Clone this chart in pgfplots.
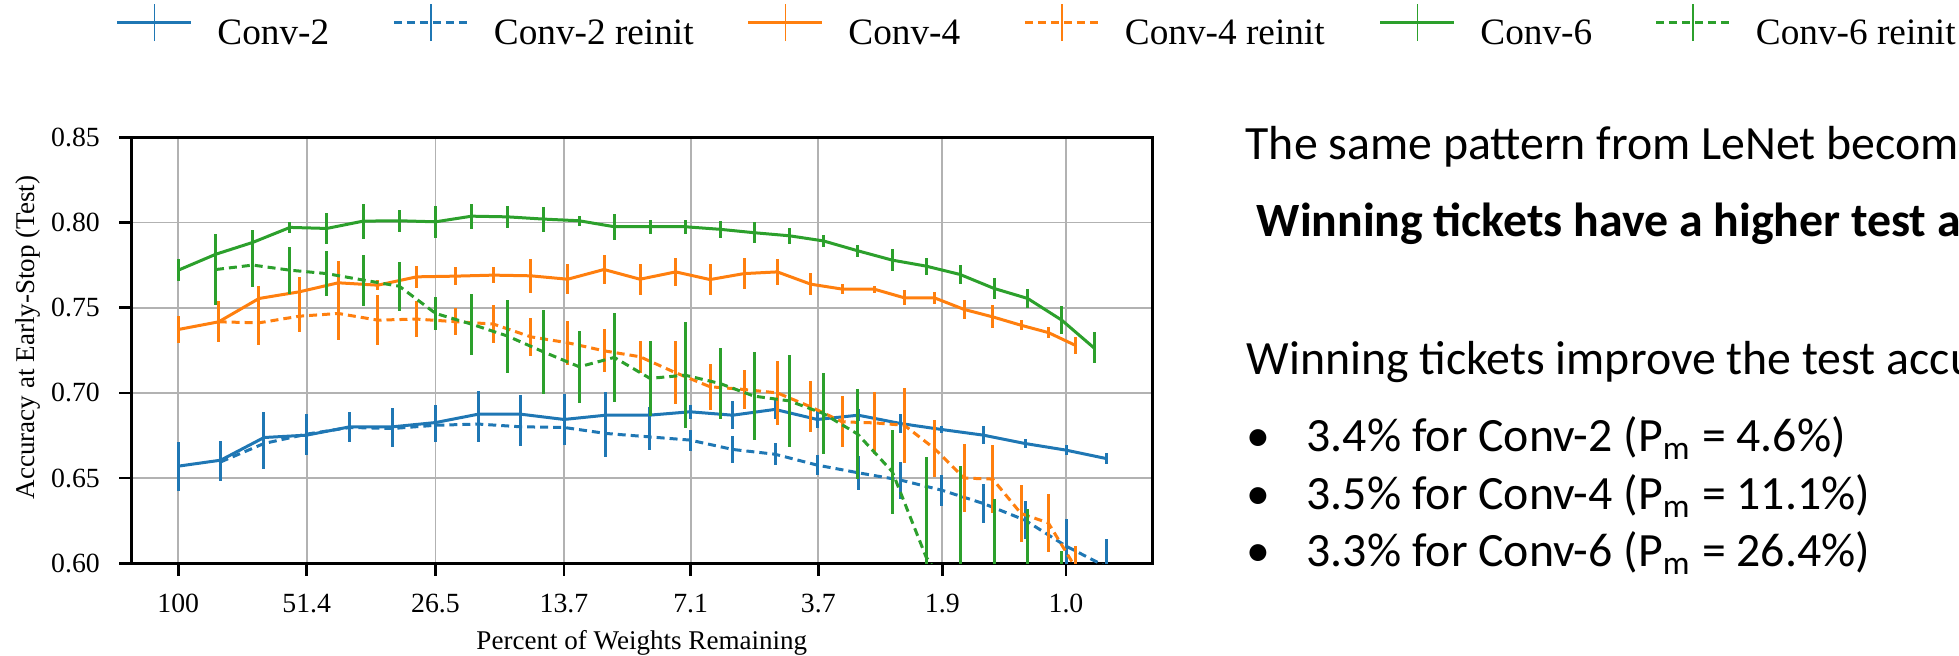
\documentclass[border=0pt]{standalone}
\usepackage{fontspec}
\setmainfont{Liberation Serif}
\newfontfamily\carlito{Carlito}
\usepackage{pgfplots}
\pgfplotsset{compat=1.18}
\usepackage{pgfplotstable}
\definecolor{cblue}{HTML}{1F77B4}
\definecolor{corange}{HTML}{FF7F0E}
\definecolor{cgreen}{HTML}{2CA02C}
\pgfplotsset{eb/.style={error bars/.cd, y dir=both, y explicit, error mark=none, error bar style={solid, line width=0.3mm}}}

% x = position along the (logarithmic) percent-remaining axis
\pgfplotstableread{
x y e
178.3 0.6570 0.0143
220.7 0.6605 0.0115
264.0 0.6738 0.0150
306.7 0.6752 0.0117
350.0 0.6801 0.0088
392.7 0.6801 0.0110
435.7 0.6826 0.0100
478.3 0.6875 0.0135
520.7 0.6875 0.0113
564.0 0.6844 0.0150
605.7 0.6869 0.0137
649.0 0.6869 0.0050
690.0 0.6889 0.0040
732.7 0.6869 0.0083
775.0 0.6903 0.0056
817.3 0.6844 0.0049
858.3 0.6869 0.0034
900.7 0.6820 0.0054
941.7 0.6785 0.0020
983.3 0.6752 0.0052
1025.0 0.6703 0.0026
1066.0 0.6664 0.0030
1106.0 0.6615 0.0035
}\convtwo
\pgfplotstableread{
x y e
220.7 0.6595 0.0115
264.0 0.6703 0.0150
306.7 0.6758 0.0117
350.0 0.6797 0.0088
392.7 0.6791 0.0110
435.7 0.6810 0.0100
478.3 0.6817 0.0108
520.7 0.6801 0.0113
564.0 0.6797 0.0083
605.7 0.6762 0.0137
649.0 0.6742 0.0076
690.0 0.6723 0.0062
732.7 0.6668 0.0078
775.0 0.6640 0.0066
817.3 0.6576 0.0059
858.3 0.6531 0.0100
900.7 0.6488 0.0108
941.7 0.6429 0.0091
983.3 0.6351 0.0117
1025.0 0.6253 0.0112
1066.0 0.6101 0.0156
1106.0 0.5980 0.0160
}\convtwor
\pgfplotstableread{
x y e
178.3 0.7372 0.0082
218.7 0.7417 0.0120
259.0 0.7554 0.0073
299.3 0.7593 0.0085
338.3 0.7646 0.0130
377.7 0.7632 0.0030
416.7 0.7681 0.0066
455.0 0.7685 0.0054
493.3 0.7691 0.0045
530.7 0.7687 0.0100
567.7 0.7667 0.0088
604.0 0.7724 0.0084
640.0 0.7667 0.0090
675.7 0.7710 0.0084
710.0 0.7665 0.0093
744.0 0.7700 0.0090
777.3 0.7710 0.0076
810.7 0.7638 0.0064
842.3 0.7609 0.0030
874.0 0.7609 0.0020
904.3 0.7558 0.0043
934.3 0.7558 0.0034
964.0 0.7490 0.0054
992.7 0.7446 0.0068
1021.0 0.7397 0.0030
1048.3 0.7354 0.0030
1075.0 0.7280 0.0050
}\convfour
\pgfplotstableread{
x y e
218.7 0.7417 0.0120
259.0 0.7411 0.0130
299.3 0.7450 0.0090
338.3 0.7466 0.0156
377.7 0.7427 0.0146
416.7 0.7433 0.0107
455.0 0.7418 0.0078
493.3 0.7404 0.0114
530.7 0.7329 0.0110
567.7 0.7294 0.0130
604.0 0.7247 0.0127
640.0 0.7212 0.0093
675.7 0.7118 0.0186
710.0 0.7036 0.0135
744.0 0.7020 0.0117
777.3 0.7000 0.0186
810.7 0.6918 0.0150
842.3 0.6830 0.0150
874.0 0.6824 0.0180
904.3 0.6810 0.0220
934.3 0.6674 0.0166
964.0 0.6500 0.0200
992.7 0.6494 0.0200
1021.0 0.6292 0.0170
1048.3 0.6237 0.0170
1075.0 0.5980 0.0120
}\convfourr
\pgfplotstableread{
x y e
178.3 0.7720 0.0065
216.0 0.7814 0.0092
252.7 0.7883 0.0072
290.0 0.7971 0.0030
326.7 0.7965 0.0093
363.3 0.8008 0.0103
399.3 0.8010 0.0065
435.7 0.8004 0.0093
471.7 0.8037 0.0073
507.7 0.8033 0.0064
543.3 0.8020 0.0073
579.3 0.8010 0.0030
614.3 0.7975 0.0075
650.0 0.7975 0.0040
685.0 0.7975 0.0040
720.0 0.7960 0.0050
754.0 0.7940 0.0060
789.3 0.7922 0.0046
823.3 0.7892 0.0037
857.7 0.7834 0.0034
892.3 0.7779 0.0066
926.0 0.7744 0.0050
960.0 0.7695 0.0054
994.0 0.7613 0.0064
1027.7 0.7554 0.0056
1061.7 0.7427 0.0083
1094.0 0.7264 0.0091
}\convsix
\pgfplotstableread{
x y e
216.0 0.7724 0.0210
252.7 0.7750 0.0128
290.0 0.7720 0.0137
326.7 0.7700 0.0130
363.3 0.7662 0.0150
399.3 0.7626 0.0145
435.7 0.7466 0.0095
471.7 0.7403 0.0180
507.7 0.7333 0.0215
543.3 0.7241 0.0248
579.3 0.7153 0.0213
614.3 0.7208 0.0260
650.0 0.7085 0.0218
685.0 0.7104 0.0310
720.0 0.7055 0.0208
754.0 0.6981 0.0260
789.3 0.6953 0.0268
823.3 0.6879 0.0240
857.7 0.6758 0.0264
892.3 0.6537 0.0247
926.0 0.6038 0.0587
960.0 0.5750 0.0820
994.0 0.5600 0.0780
1027.7 0.5450 0.0870
1061.7 0.5300 0.0770
}\convsixr

\begin{document}
\begin{tikzpicture}
\useasboundingbox (0,0) rectangle (195.9mm,65.6mm);
\clip (0,0) rectangle (195.9mm,65.6mm);
\begin{axis}[
  at={(13.17mm,9.27mm)}, anchor=south west,
  scale only axis, width=102.03mm, height=42.6mm,
  xmin=131.7, xmax=1152, ymin=0.6, ymax=0.85,
  xtick={178.3,306.7,435.5,564,690.7,818.3,942.3,1066},
  xticklabels={100,51.4,26.5,13.7,7.1,3.7,1.9,1.0},
  ytick={0.60,0.65,0.70,0.75,0.80,0.85},
  yticklabel style={xshift=-0.7mm, /pgf/number format/.cd, fixed, fixed zerofill, precision=2},
  /pgf/number format/assume math mode=true,
  scaled y ticks=false,
  tick label style={font=\fontsize{7.9}{9}\selectfont},
  xticklabel style={yshift=-0.6mm},
  xlabel={Percent of Weights Remaining},
  ylabel={Accuracy at Early-Stop (Test)},
  every axis x label/.style={at={(axis description cs:0.5,-0.2035)}, anchor=base, font=\fontsize{7.7}{9}\selectfont},
  every axis y label/.style={at={(axis description cs:-0.0948,0.53)}, anchor=base, rotate=90, font=\fontsize{7.7}{9}\selectfont},
  tick align=outside, tick pos=left,
  major tick length=1.25mm,
  tick style={black, line width=0.25mm},
  axis line style={line width=0.3mm},
  grid=major, grid style={black!30, line width=0.18mm},
  legend columns=6,
  legend style={at={(axis description cs:-0.0154,1.2589)}, anchor=west, draw=none, fill=none,
    inner sep=0pt, outer sep=0pt, font=\fontsize{10.6}{12}\selectfont, nodes={inner sep=0pt},
    /tikz/every odd column/.append style={column sep=2.45mm},
    /tikz/every even column/.append style={column sep=0mm}},
  legend image code/.code={\draw[#1] (0mm,1.25mm) -- (7.4mm,1.25mm);
    \draw[#1,solid,line width=0.12mm] (3.7mm,-0.58mm) -- (3.7mm,3.08mm);},
]
\addplot[cblue, line width=0.3mm, eb] table[x=x,y=y,y error=e] {\convtwo};
\addlegendentry{\makebox[17.5mm][l]{Conv-2}}
\addplot[cblue, line width=0.3mm, dash pattern=on 0.8mm off 0.5mm, eb] table[x=x,y=y,y error=e] {\convtwor};
\addlegendentry{\makebox[25.3mm][l]{Conv-2 reinit}}
\addplot[corange, line width=0.3mm, eb] table[x=x,y=y,y error=e] {\convfour};
\addlegendentry{\makebox[17.5mm][l]{Conv-4}}
\addplot[corange, line width=0.3mm, dash pattern=on 0.8mm off 0.5mm, eb] table[x=x,y=y,y error=e] {\convfourr};
\addlegendentry{\makebox[25.4mm][l]{Conv-4 reinit}}
\addplot[cgreen, line width=0.3mm, eb] table[x=x,y=y,y error=e] {\convsix};
\addlegendentry{\makebox[17.4mm][l]{Conv-6}}
\addplot[cgreen, line width=0.3mm, dash pattern=on 0.8mm off 0.5mm, eb] table[x=x,y=y,y error=e] {\convsixr};
\addlegendentry{Conv-6 reinit}
\end{axis}
\begin{scope}[every node/.style={anchor=base west, inner sep=0pt, font=\carlito\fontsize{13.6}{16}\selectfont}]
\node at (124.5mm,49.67mm) {The same pattern from LeNet becomes more evident};
\node[font=\carlito\bfseries\fontsize{13.6}{16}\selectfont] at (125.6mm,41.93mm) {Winning tickets have a higher test accuracy};
\node at (124.6mm,28.1mm) {Winning tickets improve the test accuracy by};
\node at (124.6mm,20.43mm) {•};
\node at (130.6mm,20.43mm) {3.4\% for Conv-2 (P\textsubscript{m} = 4.6\%)};
\node at (124.6mm,14.6mm) {•};
\node at (130.6mm,14.6mm) {3.5\% for Conv-4 (P\textsubscript{m} = 11.1\%)};
\node at (124.6mm,8.93mm) {•};
\node at (130.6mm,8.93mm) {3.3\% for Conv-6 (P\textsubscript{m} = 26.4\%)};
\end{scope}
\end{tikzpicture}
\end{document}
